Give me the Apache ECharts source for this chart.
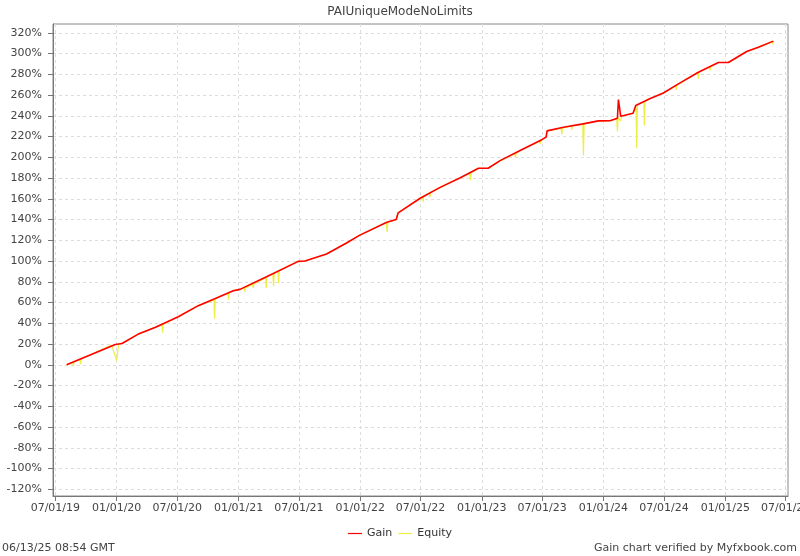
<!DOCTYPE html>
<html>
<head>
<meta charset="utf-8">
<script src="https://cdn.jsdelivr.net/npm/echarts@6/dist/echarts.min.js"></script>
<style>html,body{margin:0;padding:0;background:#fff}#c{width:800px;height:556px}</style>
</head>
<body>
<div id="c"></div>
<script>
const chartTitle = 'PAIUniqueModeNoLimits';
const footerLeft = '06/13/25 08:54 GMT';
const footerRight = 'Gain chart verified by Myfxbook.com';
const seriesNames = ['Gain', 'Equity'];

const xTickDates = ['2019-07-01','2020-01-01','2020-07-01','2021-01-01','2021-07-01','2022-01-01','2022-07-01','2023-01-01','2023-07-01','2024-01-01','2024-07-01','2025-01-01','2025-07-01'];
const xRange = ['2019-06-24', '2025-07-08'];
const yTickValues = [-120,-100,-80,-60,-40,-20,0,20,40,60,80,100,120,140,160,180,200,220,240,260,280,300,320];
const yRange = [-126.5, 328.5];

const gainDates = ['2019-08-04','2019-12-28','2020-01-17','2020-03-06','2020-04-25','2020-07-04','2020-09-02','2020-11-01','2020-12-16','2021-01-05','2021-03-26','2021-06-29','2021-07-19','2021-09-22','2021-11-21','2021-12-31','2022-03-22','2022-04-19','2022-04-25','2022-06-30','2022-08-29','2022-10-27','2022-12-22','2023-01-20','2023-02-25','2023-04-26','2023-06-30','2023-07-13','2023-07-16','2023-09-03','2023-11-01','2023-12-17','2024-01-21','2024-02-12','2024-02-15','2024-02-22','2024-03-30','2024-04-05','2024-04-07','2024-05-19','2024-06-29','2024-08-13','2024-10-12','2024-12-11','2025-01-10','2025-03-06','2025-04-10','2025-05-25'];
const gainValues = [0,19.5,20.5,29.6,36,46.3,57,65,71.4,72.7,84.9,99.7,100,106.8,117.4,125,137.3,140,146.5,160.5,171,180,189.4,189.4,196.8,206.5,217,219.5,225.5,229,232.2,235.1,235.2,237.7,255.7,239.5,242.5,244,250,256.4,262,270.8,282,291.4,291.4,302,306,312];

const equityDates = ['2019-08-04','2019-08-22','2019-08-24','2019-08-26','2019-09-13','2019-09-15','2019-09-17','2019-12-17','2020-01-01','2020-01-07','2020-01-17','2020-03-06','2020-04-25','2020-05-16','2020-05-18','2020-05-20','2020-07-04','2020-09-02','2020-10-19','2020-10-21','2020-10-23','2020-11-01','2020-11-30','2020-12-02','2020-12-04','2020-12-16','2021-01-05','2021-01-18','2021-01-20','2021-01-22','2021-02-12','2021-02-14','2021-02-16','2021-03-23','2021-03-25','2021-03-27','2021-04-14','2021-04-16','2021-04-18','2021-04-29','2021-05-01','2021-05-03','2021-06-29','2021-07-19','2021-09-22','2021-11-21','2021-12-31','2022-03-20','2022-03-23','2022-03-25','2022-04-19','2022-04-25','2022-06-30','2022-07-07','2022-07-09','2022-07-11','2022-07-27','2022-07-29','2022-07-31','2022-08-29','2022-10-27','2022-11-26','2022-11-28','2022-11-30','2022-12-22','2023-01-20','2023-02-25','2023-04-10','2023-04-12','2023-04-14','2023-04-26','2023-06-23','2023-06-25','2023-06-27','2023-06-30','2023-07-13','2023-07-16','2023-08-27','2023-08-29','2023-08-31','2023-09-03','2023-09-26','2023-09-28','2023-09-30','2023-10-31','2023-11-02','2023-11-04','2023-12-17','2024-01-21','2024-02-10','2024-02-12','2024-02-14','2024-02-20','2024-02-22','2024-02-24','2024-03-30','2024-04-05','2024-04-08','2024-04-10','2024-04-12','2024-05-01','2024-05-03','2024-05-05','2024-05-19','2024-06-29','2024-08-04','2024-08-06','2024-08-08','2024-10-10','2024-10-12','2024-10-14','2024-11-14','2024-11-16','2024-11-18','2024-12-11','2025-01-10','2025-03-06','2025-04-10','2025-05-22','2025-05-24','2025-05-25'];
const equityValues = [0,2.5,-1.5,3,5,0.5,5.5,19,4,20,20.5,29.6,36,38.5,31,39,46.3,57,62.5,44.5,63,65,69,62.7,69.8,71.4,72.7,73.5,70.5,74,77.5,74,78,84,74,85,87.5,75.5,88,90,78.5,90.5,99.7,100,106.8,117.4,125,137,127.7,137.5,140,146.5,160.5,162,157,162.5,165.5,161.4,166,171,180,184.5,178,185,189.4,189.4,196.8,203.5,200,204,206.5,215.5,213,216,217,219.5,225.5,227.8,222,228,229,230.3,226.7,230.6,232,201.7,232.3,235.1,235.2,237.5,225,238,239.3,235,239.6,242.5,244,249,208.7,250.5,253.3,230.6,253.8,256.4,262,268.8,265,269.3,281.8,275.7,282.2,286.8,283.7,287.2,291.4,291.4,302,306,311.5,309,312];

function ts(s){ const p = s.split('-').map(Number); return Date.UTC(p[0], p[1]-1, p[2]); }
function pad(n){ return (n < 10 ? '0' : '') + n; }
function fmtDate(v){ const d = new Date(v); return pad(d.getUTCMonth()+1) + '/' + pad(d.getUTCDate()) + '/' + pad(d.getUTCFullYear() % 100); }

const FONT = 'DejaVu Sans';
const gainData = gainDates.map((d, i) => [ts(d), gainValues[i]]);
const equityData = equityDates.map((d, i) => [ts(d), equityValues[i]]);
const xTicks = xTickDates.map(ts);

const chart = echarts.init(document.getElementById('c'), null, {renderer: 'canvas'});
chart.setOption({
  animation: false,
  backgroundColor: '#fff',
  title: [
    {text: chartTitle, left: 'center', top: 1, textStyle: {fontFamily: FONT, fontSize: 12, fontWeight: 'normal', color: '#444'}},
    {text: footerLeft, left: 2, top: 543, padding: 0, textStyle: {fontFamily: FONT, fontSize: 11, fontWeight: 'normal', color: '#444'}},
    {text: footerRight, right: 3, top: 543, padding: 0, textStyle: {fontFamily: FONT, fontSize: 11, fontWeight: 'normal', color: '#444'}}
  ],
  legend: {
    data: seriesNames,
    left: 'center', top: 523,
    icon: 'rect',
    itemWidth: 14, itemHeight: 1.2, itemGap: 6,
    textStyle: {fontFamily: FONT, fontSize: 11, color: '#333'}
  },
  grid: {left: 53, right: 12, top: 24, bottom: 60, show: true, borderColor: '#888', borderWidth: 1, containLabel: false, outerBoundsMode: 'none'},
  xAxis: {
    type: 'value',
    min: ts(xRange[0]), max: ts(xRange[1]),
    axisLine: {onZero: false, lineStyle: {color: '#777'}},
    axisTick: {show: true, length: 5, lineStyle: {color: '#777'}, customValues: xTicks},
    axisLabel: {customValues: xTicks, formatter: fmtDate, fontFamily: FONT, fontSize: 11, color: '#444', margin: 7, hideOverlap: false},
    splitLine: {show: true, lineStyle: {color: '#ddd', type: [3, 3]}}
  },
  yAxis: {
    type: 'value',
    min: yRange[0], max: yRange[1],
    axisLine: {show: true, onZero: false, lineStyle: {color: '#777'}},
    axisTick: {show: true, length: 5, lineStyle: {color: '#777'}, customValues: yTickValues},
    axisLabel: {customValues: yTickValues, formatter: v => v + '%', fontFamily: FONT, fontSize: 11, color: '#444', margin: 11},
    splitLine: {show: true, lineStyle: {color: '#ddd', type: [3, 3]}}
  },
  series: [
    {name: seriesNames[1], type: 'line', data: equityData, symbol: 'none', color: '#eeee44', lineStyle: {width: 1.2, color: '#eeee44'}, z: 2},
    {name: seriesNames[0], type: 'line', data: gainData, symbol: 'none', color: '#ff0000', lineStyle: {width: 1.6, color: '#ff0000'}, z: 3}
  ]
});
</script>
</body>
</html>
